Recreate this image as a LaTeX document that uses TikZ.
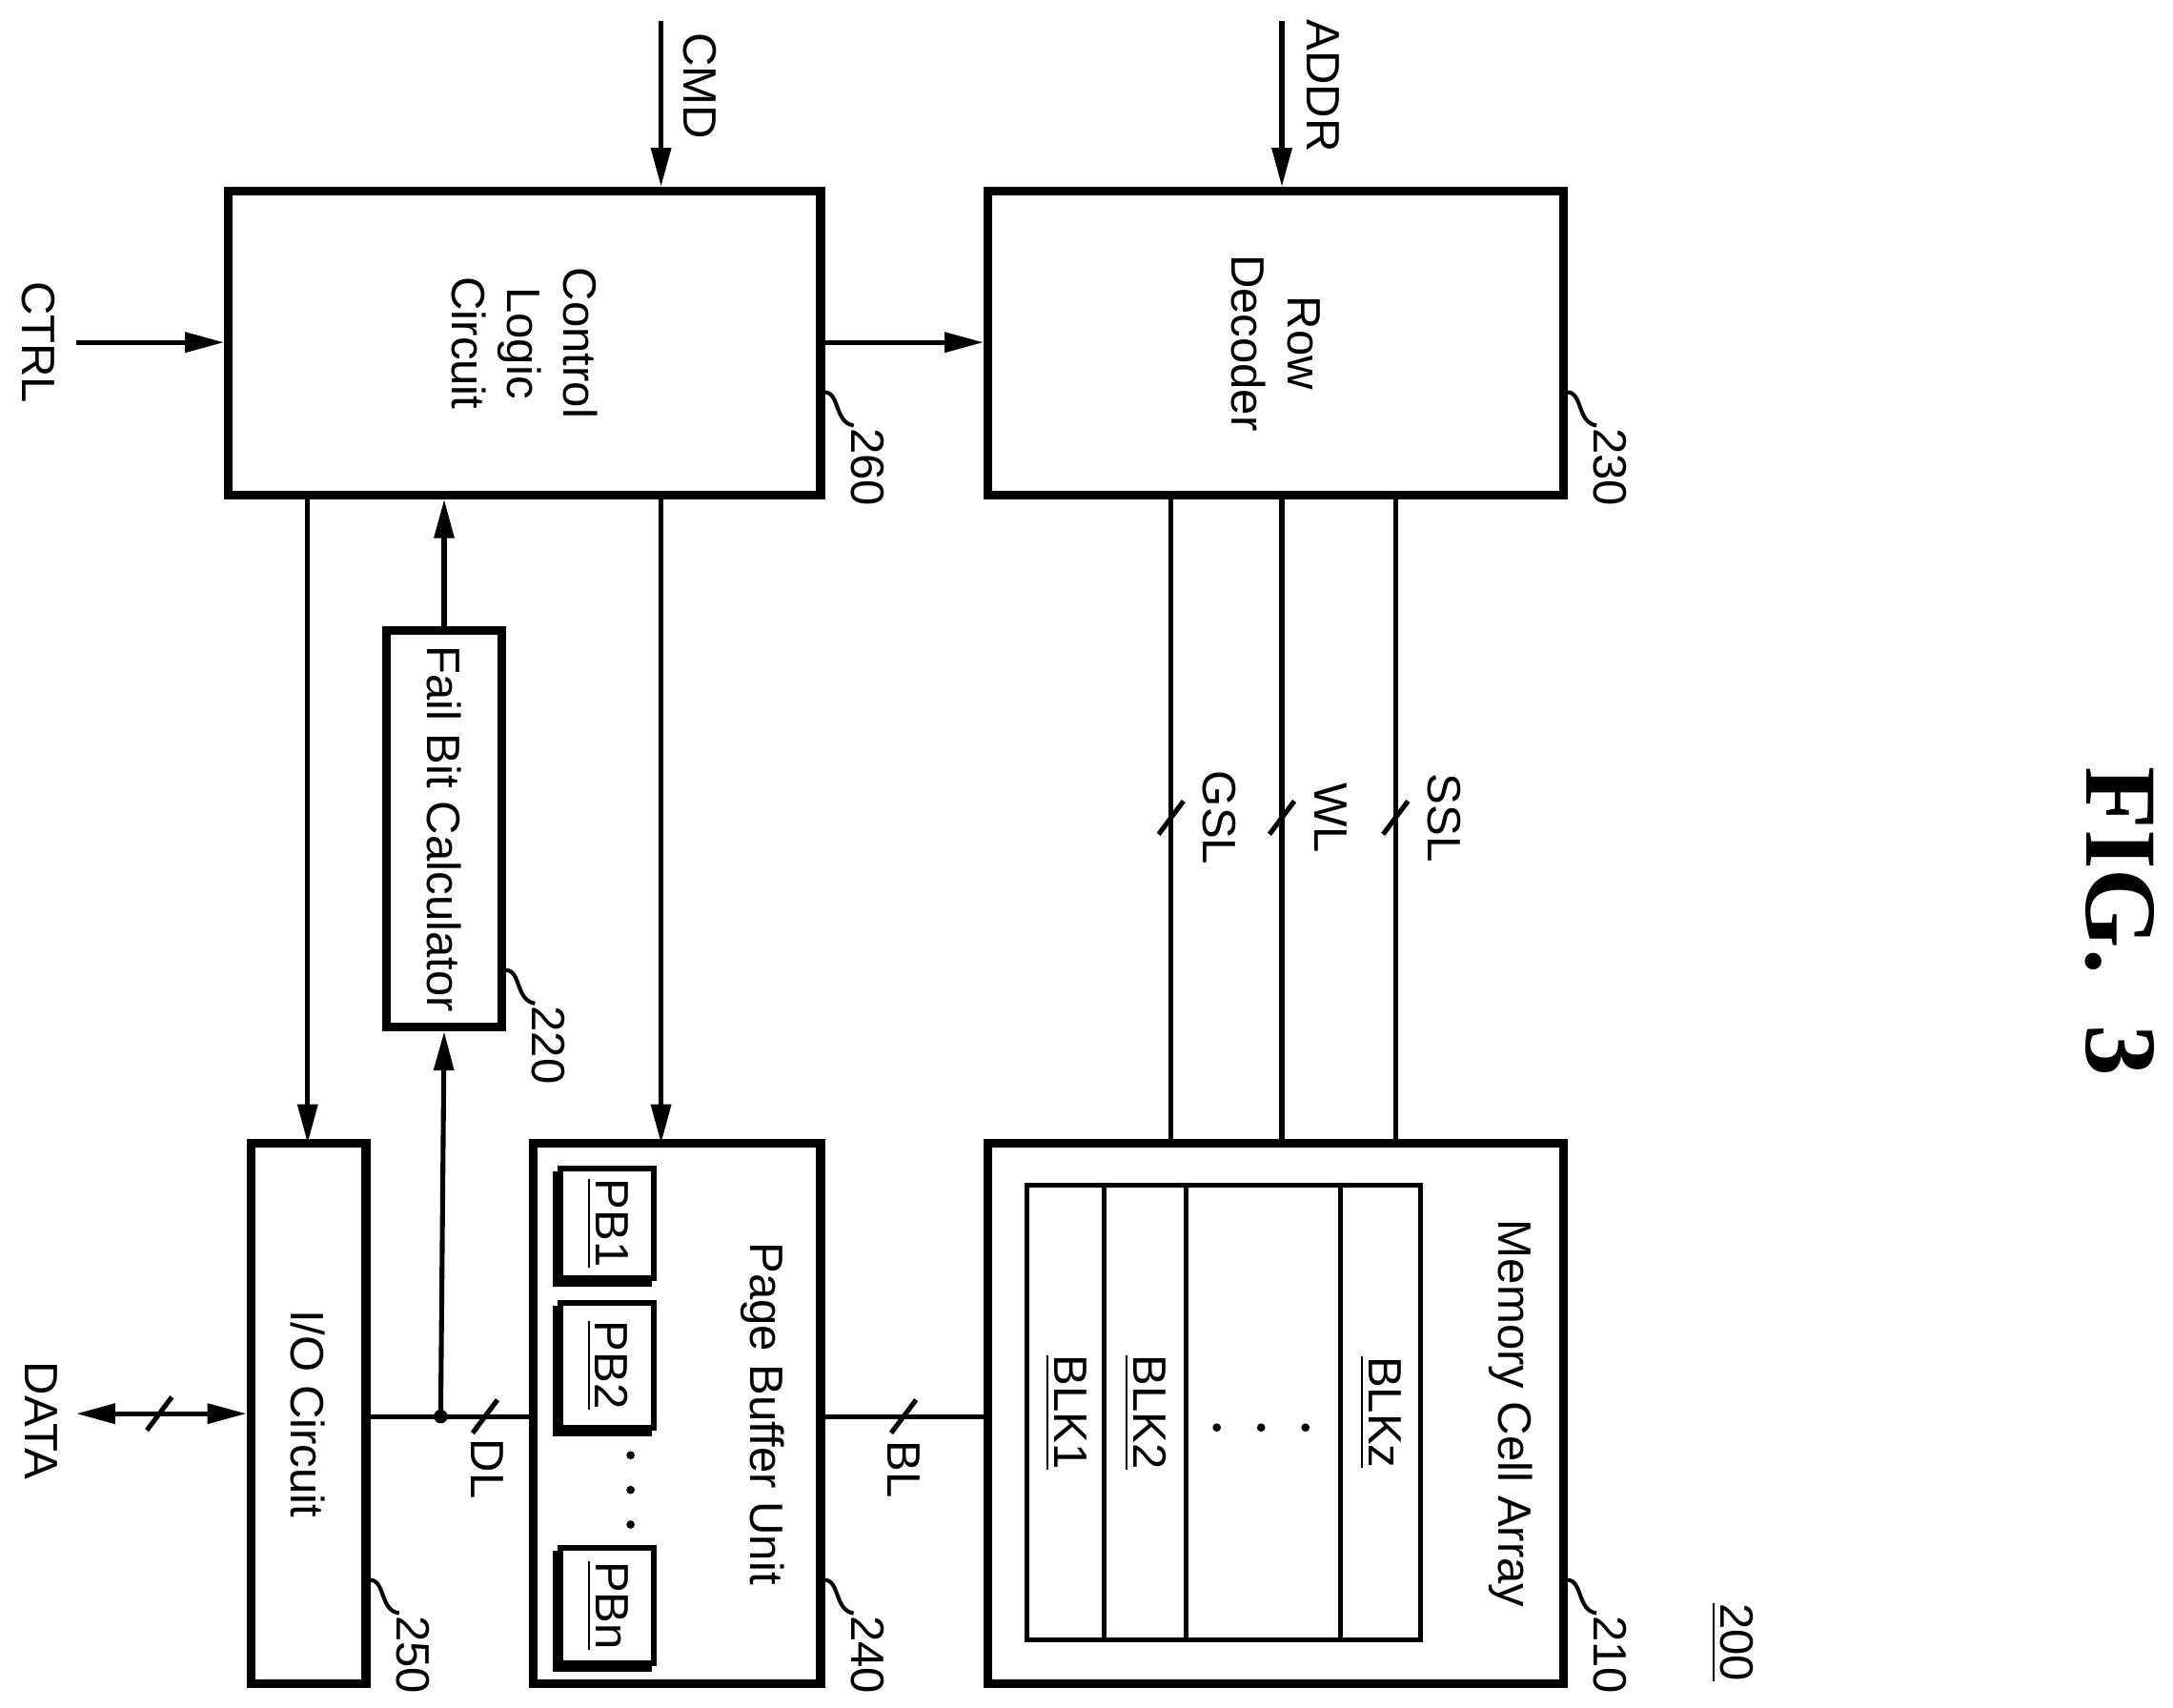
\documentclass[tikz,border=0pt]{standalone}
\usepackage{fontspec}
\setmainfont{Liberation Sans}
\newfontfamily\figfont{Liberation Serif}
\usetikzlibrary{arrows.meta}
\tikzset{
  blk/.style={draw, line width=1.8pt, inner sep=0pt},
  thinblk/.style={draw, line width=1pt, inner sep=0pt},
  txt/.style={rotate=-90, font=\fontsize{9.6}{11.5}\selectfont, align=center},
  arr/.style={-{Triangle[length=8pt,width=4pt]}},
  lead/.style={line width=0.8pt}
}
\begin{document}
\begin{tikzpicture}[x=0.01cm,y=-0.01cm,line width=1pt]
  \useasboundingbox (0,0) rectangle (1568,1232);

  % main blocks
  \node[blk, minimum width=4.27cm, minimum height=2.19cm] (ctl) at (378.5,247.5) {};
  \node[txt] at (ctl) {Control\\Logic\\Circuit};
  \node[blk, minimum width=4.15cm, minimum height=2.19cm] (row) at (920.5,247.5) {};
  \node[txt] at (row) {Row\\Decoder};
  \node[blk, minimum width=0.83cm, minimum height=2.86cm] (fbc) at (320.5,598) {};
  \node[txt] at (fbc) {Fail Bit Calculator};
  \node[blk, minimum width=0.83cm, minimum height=3.90cm] (io) at (222.5,1020) {};
  \node[txt] at (io) {I/O Circuit};
  \node[blk, minimum width=2.07cm, minimum height=3.90cm] (pbu) at (488.5,1020) {};
  \node[txt] at (550,1020) {Page Buffer Unit};
  \node[blk, minimum width=4.15cm, minimum height=3.90cm] (mca) at (920.5,1020) {};
  \node[txt] at (1090,1020) {Memory Cell Array};

  % blocks of the cell array
  \node[thinblk, minimum width=2.84cm, minimum height=3.28cm] (arr) at (883,1019) {};
  \draw (797,855) -- (797,1183) (856,855) -- (856,1183) (967,855) -- (967,1183);
  \node[txt] at (769,1019) {\underline{BLK1}};
  \node[txt] at (826,1019) {\underline{BLK2}};
  \node[txt] at (996,1019) {\underline{BLKz}};
  \foreach \x in {878,910,942} \fill (\x,1030) circle (3);

  % page buffers
  \foreach \n/\y/\h in {1/882.5/0.79, 2/985/0.9, n/1158.5/0.83} {
    \draw[line width=1.2pt] (401,{\y-\h*50+4}) rectangle ++(67,{\h*100});
    \node[blk, line width=1.2pt, fill=white, minimum width=0.67cm, minimum height=\h cm] (pb\n) at (438,\y) {};
    \node[txt] at (pb\n) {\underline{PB\n}};
  }
  \foreach \y in {1050,1075,1100} \fill (455,\y) circle (3);

  % inputs
  \coordinate (cmd) at (477,15);
  \coordinate (addr) at (925,15);
  \coordinate (ctrl) at (55,247);
  \draw[arr] (cmd) -- (cmd |- ctl.north);
  \node[txt] at (505,62) {CMD};
  \draw[arr] (addr) -- (addr |- row.north);
  \node[txt] at (955,62) {ADDR};
  \draw[arr] (ctrl) -- (ctl.west |- ctrl);
  \node[txt] at (28,247) {CTRL};
  \draw[arr] (ctl.east |- ctrl) -- (row.west |- ctrl);

  % row lines
  \foreach \x/\l in {845/GSL, 925/WL, 1007/SSL} {
    \draw (\x,357) -- (\x,825);
    \draw (\x-9,602) -- (\x+9,578);
    \node[txt] at (\x+35,590) {\l};
  }

  % control outputs
  \draw[arr] (222,357) -- (222,825);
  \draw[arr] (477,357) -- (477,825);
  \draw[arr] (fbc.north) -- (fbc.north |- ctl.south);

  % data lines
  \coordinate (dot) at (318,1022);
  \draw (io.east |- dot) -- (pbu.west |- dot);
  \fill (dot) circle (5);
  \draw[arr] (dot) -- (fbc.south);
  \draw (341,1034) -- (359,1010);
  \node[txt] at (352,1060) {DL};
  \draw (pbu.east |- dot) -- (mca.west |- dot);
  \draw (643,1034) -- (661,1010);
  \node[txt] at (652,1060) {BL};
  \coordinate (data) at (55,1020);
  \draw[{Triangle[length=8pt,width=4pt]}-{Triangle[length=8pt,width=4pt]}] (data) -- (io.west |- data);
  \draw (106,1032) -- (124,1008);
  \node[txt] at (30,1025) {DATA};

  % reference numbers
  \foreach \x/\y/\t in {592/283/260, 1128/283/230, 362/700/220, 264/1140/250, 592/1140/240, 1128/1140/210} {
    \draw[lead] (\x+3,\y) .. controls (\x+14,\y) and (\x+10,\y+22) .. (\x+24,\y+24);
    \node[txt] at (\x+34,\y+54) {\t};
  }
  \node[txt] at (1250,1185) {\underline{200}};
  \node[rotate=-90, font=\fontsize{21}{24}\selectfont\bfseries\figfont] at (1530,665) {FIG.\ \ 3};
\end{tikzpicture}
\end{document}
